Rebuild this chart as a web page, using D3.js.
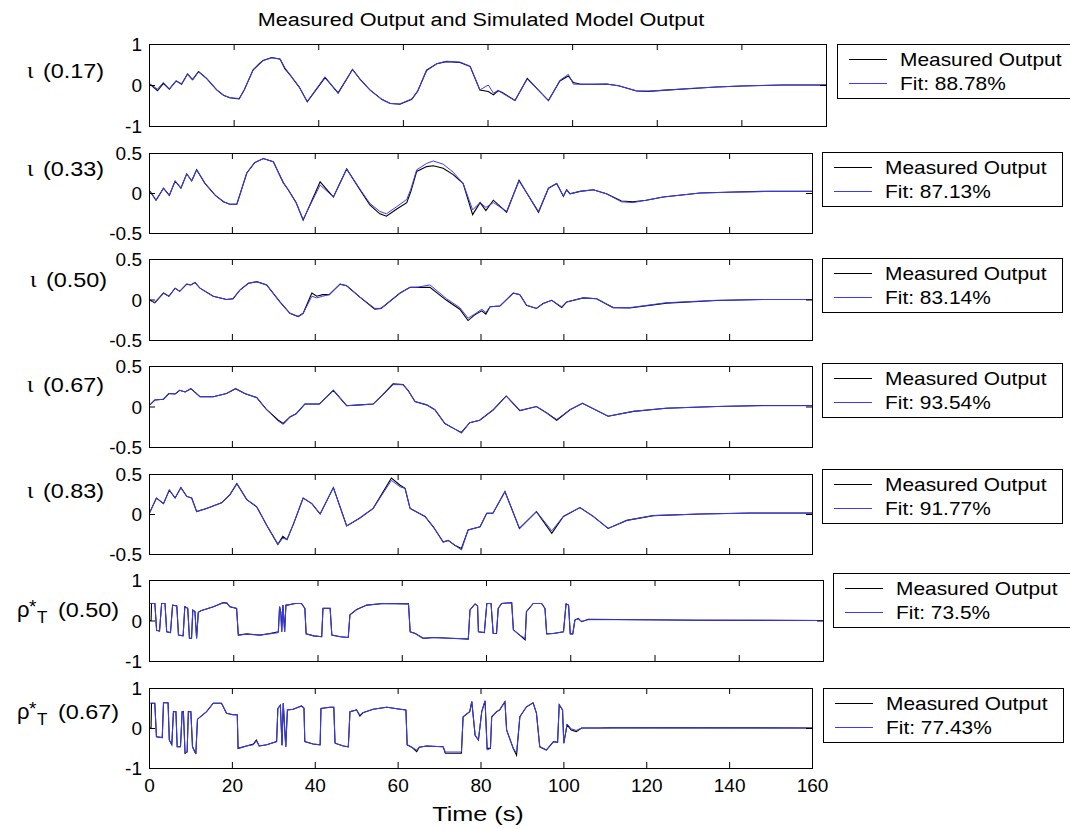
<!DOCTYPE html>
<html>
<head>
<meta charset="utf-8">
<script src="https://cdn.jsdelivr.net/npm/d3@7"></script>
<style>
  html, body { margin: 0; padding: 0; background: #fff; }
  svg { display: block; }
  text { font-family: "Liberation Sans", Arial, Helvetica, sans-serif; fill: #000; }
</style>
</head>
<body>
<svg id="chart" width="1070" height="829"></svg>
<script>
// ---------- data ----------
const chartTitle = "Measured Output and Simulated Model Output";
const xLabel = "Time (s)";
const xTicks = [0, 20, 40, 60, 80, 100, 120, 140, 160];
const xTickLabels = ["0", "20", "40", "60", "80", "100", "120", "140", "160"];
const legendMeasured = "Measured Output";

const yTicksUnit = [-1, 0, 1];
const yTickLabelsUnit = ["-1", "0", "1"];
const yTicksHalf = [-0.5, 0, 0.5];
const yTickLabelsHalf = ["-0.5", "0", "0.5"];

// iota (0.17)
const time_iota17 = [0, 2.0, 3.4, 4.8, 6.4, 7.7, 9.1, 10.3, 11.7, 13.6, 16, 17.6, 19.1, 21.3, 22.5, 24.6, 26.2, 27, 29, 31, 32.1, 33.3, 35.5, 37.4, 41.6, 44.7, 48.1, 49.9, 52.2, 55, 57, 59.3, 62.1, 63.5, 65.6, 68, 70.3, 73.5, 75.9, 78.2, 80.2, 81.4, 82.5, 83.5, 86.5, 89.4, 94.4, 97.1, 99.1, 100.3, 102, 105, 108.2, 111, 115.2, 118, 123, 128.5, 134, 140.4, 150, 160];
const measured_iota17 = [0.04, -0.14, 0.04, -0.1, 0.1, 0.02, 0.27, 0.13, 0.33, 0.16, -0.12, -0.25, -0.31, -0.34, -0.12, 0.37, 0.53, 0.6, 0.67, 0.63, 0.4, 0.25, -0.05, -0.41, 0.18, -0.19, 0.38, 0.14, -0.12, -0.35, -0.45, -0.47, -0.35, -0.15, 0.36, 0.52, 0.57, 0.55, 0.45, -0.12, -0.16, -0.24, -0.14, -0.18, -0.38, 0.16, -0.38, 0.1, 0.22, 0.06, 0.02, 0.02, 0.025, -0.02, -0.145, -0.155, -0.12, -0.085, -0.05, -0.025, 0, 0];
const fit_iota17 = [0.04, -0.1, 0.06, -0.1, 0.1, 0.03, 0.26, 0.12, 0.32, 0.16, -0.12, -0.25, -0.31, -0.33, -0.12, 0.36, 0.52, 0.6, 0.66, 0.64, 0.42, 0.26, -0.05, -0.4, 0.2, -0.21, 0.38, 0.13, -0.12, -0.35, -0.45, -0.46, -0.34, -0.15, 0.35, 0.52, 0.58, 0.56, 0.46, -0.12, 0.0, -0.2, -0.13, -0.2, -0.38, 0.15, -0.38, 0.11, 0.26, 0.02, 0.02, 0.02, 0.02, -0.02, -0.14, -0.15, -0.12, -0.08, -0.05, -0.02, 0, 0];

// iota (0.33)
const time_iota33 = [0, 1.7, 3.5, 4.9, 6.3, 7.7, 9.1, 10.3, 11.5, 13.5, 16, 18, 19.5, 21.2, 23.6, 25.5, 27.6, 30, 32.4, 33.6, 35.5, 37.2, 41.3, 44.5, 47.7, 50.9, 53.3, 55.7, 57.3, 59.8, 62.2, 63.2, 64.6, 67, 68.6, 71, 73.4, 75.8, 78.1, 79.9, 81.3, 83.1, 86.3, 89.3, 94, 96.4, 98.4, 100, 100.8, 101.6, 104, 107.2, 110.4, 114, 116.8, 120, 124.1, 133, 141, 150, 160];
const measured_iota33 = [0.04, -0.09, 0.06, -0.03, 0.15, 0.06, 0.24, 0.15, 0.29, 0.12, -0.03, -0.11, -0.14, -0.14, 0.25, 0.38, 0.43, 0.39, 0.13, 0.04, -0.12, -0.34, 0.14, -0.05, 0.3, 0.04, -0.15, -0.26, -0.29, -0.2, -0.12, 0.02, 0.27, 0.33, 0.34, 0.31, 0.23, 0.12, -0.27, -0.12, -0.22, -0.09, -0.24, 0.16, -0.24, 0.06, 0.12, -0.04, 0.04, -0.01, 0.02, 0.04, -0.01, -0.1, -0.11, -0.09, -0.05, 0, 0.012, 0.022, 0.022];
const fit_iota33 = [0.04, -0.09, 0.06, -0.03, 0.15, 0.06, 0.24, 0.15, 0.29, 0.12, -0.03, -0.11, -0.14, -0.14, 0.25, 0.38, 0.43, 0.39, 0.13, 0.04, -0.12, -0.33, 0.1, -0.05, 0.3, 0.05, -0.13, -0.23, -0.26, -0.17, -0.08, 0.05, 0.29, 0.37, 0.4, 0.36, 0.26, 0.12, -0.21, -0.12, -0.18, -0.12, -0.23, 0.15, -0.23, 0.06, 0.12, -0.04, 0.04, -0.01, 0.02, 0.04, -0.01, -0.11, -0.12, -0.09, -0.05, 0, 0.01, 0.02, 0.02];

// iota (0.50)
const time_iota50 = [0, 1.4, 3.5, 4.8, 6.3, 7.4, 9.1, 10.1, 11.1, 12.3, 15.5, 18.7, 20.3, 22, 24, 26, 28.4, 31.6, 34, 36, 37.2, 39.3, 40.5, 41.9, 43.5, 46.1, 47.7, 50.9, 54.5, 56, 60.6, 63, 64.6, 67.8, 71.8, 75, 77, 78.6, 80.3, 81.3, 82.3, 84.7, 87.9, 89.5, 91.1, 93.5, 95.1, 97.2, 99.6, 100.8, 104.8, 108, 112, 116, 124.9, 137, 148, 160];
const measured_iota50 = [0, -0.04, 0.08, 0.04, 0.14, 0.1, 0.19, 0.18, 0.21, 0.14, 0.04, 0, 0.01, 0.12, 0.2, 0.22, 0.18, -0.03, -0.17, -0.21, -0.17, 0.08, 0.04, 0.06, 0.06, 0.19, 0.17, 0.03, -0.12, -0.11, 0.08, 0.15, 0.15, 0.15, -0.01, -0.12, -0.26, -0.19, -0.14, -0.18, -0.09, -0.08, 0.08, 0.06, -0.07, -0.11, -0.05, -0.01, -0.1, -0.03, 0.02, 0.01, -0.1, -0.105, -0.045, -0.012, 0, 0];
const fit_iota50 = [0, -0.04, 0.08, 0.04, 0.14, 0.1, 0.19, 0.18, 0.21, 0.14, 0.04, 0, 0.01, 0.12, 0.2, 0.22, 0.18, -0.03, -0.17, -0.21, -0.17, 0.04, 0.02, 0.04, 0.06, 0.19, 0.17, 0.03, -0.11, -0.11, 0.08, 0.15, 0.15, 0.18, 0.01, -0.1, -0.23, -0.18, -0.12, -0.16, -0.09, -0.08, 0.08, 0.06, -0.07, -0.11, -0.05, -0.01, -0.09, -0.03, 0.02, 0.01, -0.1, -0.1, -0.04, -0.01, 0, 0];

// iota (0.67)
const time_iota67 = [0, 1.4, 3.5, 4.8, 6.3, 7.4, 8.7, 10.1, 12.3, 15.5, 18.7, 20.9, 23.1, 26, 28.4, 31.2, 32.4, 34, 35.5, 37.6, 41.1, 44.5, 47.7, 50.9, 54.1, 56.5, 58.9, 61.3, 62.5, 64.2, 67, 69, 71.4, 73.5, 75.4, 77.4, 79.8, 83.1, 86.2, 89.5, 93.5, 96, 98.4, 101.6, 104.6, 110.8, 116.9, 124.9, 137, 148, 160];
const measured_iota67 = [0.01, 0.08, 0.09, 0.16, 0.155, 0.2, 0.18, 0.22, 0.12, 0.12, 0.16, 0.22, 0.16, 0.11, -0.04, -0.17, -0.21, -0.13, -0.09, 0.03, 0.03, 0.2, 0.01, 0.02, 0.03, 0.15, 0.28, 0.27, 0.2, 0.06, 0.02, -0.04, -0.21, -0.27, -0.32, -0.2, -0.17, -0.04, 0.13, -0.05, 0, -0.08, -0.17, -0.04, 0.04, -0.12, -0.06, -0.022, 0, 0.012, 0.012];
const fit_iota67 = [0.01, 0.08, 0.09, 0.16, 0.155, 0.2, 0.18, 0.22, 0.12, 0.12, 0.16, 0.22, 0.16, 0.11, -0.04, -0.18, -0.22, -0.13, -0.09, 0.03, 0.03, 0.2, 0.01, 0.02, 0.03, 0.15, 0.27, 0.27, 0.2, 0.06, 0.02, -0.04, -0.21, -0.27, -0.33, -0.2, -0.17, -0.04, 0.13, -0.05, 0, -0.08, -0.16, -0.04, 0.04, -0.12, -0.06, -0.02, 0, 0.01, 0.01];

// iota (0.83)
const time_iota83 = [0, 1.8, 3.5, 4.9, 6.3, 7.7, 9.1, 10.3, 11.5, 13.9, 17.5, 19.5, 21.2, 23.6, 26, 28.4, 31.1, 32.3, 33.3, 34.9, 37.2, 39.3, 41.3, 44.5, 47.7, 50.9, 54.1, 58.5, 60.6, 61.8, 63, 66.6, 68.6, 71, 72.2, 73.8, 75.4, 77, 79.9, 81.5, 83, 85.9, 89.4, 93.5, 97.2, 100, 104, 107.2, 110.8, 115.3, 121.7, 133, 145, 160];
const measured_iota83 = [0, 0.2, 0.13, 0.3, 0.2, 0.33, 0.22, 0.2, 0.03, 0.07, 0.14, 0.24, 0.38, 0.18, 0.09, -0.14, -0.38, -0.28, -0.32, -0.12, 0.2, 0.13, 0, 0.33, -0.15, -0.05, 0.07, 0.45, 0.36, 0.32, 0.07, -0.03, -0.16, -0.35, -0.33, -0.39, -0.43, -0.2, -0.16, 0.01, 0.01, 0.28, -0.18, 0.03, -0.24, -0.03, 0.08, -0.03, -0.18, -0.08, -0.02, 0, 0.012, 0.012];
const fit_iota83 = [0, 0.2, 0.13, 0.3, 0.2, 0.33, 0.22, 0.2, 0.03, 0.07, 0.14, 0.24, 0.38, 0.18, 0.09, -0.14, -0.38, -0.3, -0.32, -0.12, 0.2, 0.13, 0, 0.33, -0.15, -0.05, 0.07, 0.42, 0.34, 0.32, 0.07, -0.03, -0.16, -0.35, -0.33, -0.39, -0.45, -0.2, -0.16, 0.01, 0.01, 0.28, -0.18, 0.03, -0.21, -0.03, 0.08, -0.03, -0.18, -0.08, -0.02, 0, 0.01, 0.01];

// rho*_T (0.50)
const time_rho50 = [0, 0.5, 0.6, 1.4, 1.8, 2.5, 3.0, 3.8, 4.2, 5.1, 5.6, 6.6, 7.0, 8.1, 8.5, 9.2, 9.6, 10.1, 10.4, 10.9, 11.3, 11.7, 12.3, 15.3, 17.6, 18.5, 19.2, 20.8, 21.2, 23.2, 26.3, 28.7, 30.7, 31.0, 31.3, 31.5, 31.8, 32.2, 32.5, 32.8, 34.7, 36.2, 37.0, 37.3, 39.1, 41.0, 41.3, 43.0, 43.4, 45.4, 47.3, 47.7, 49.3, 51.7, 55.6, 61.6, 62.0, 63.2, 65.1, 67.5, 71.5, 75.8, 76.2, 77.4, 78.0, 78.2, 79.6, 80.2, 81.2, 81.7, 82.5, 82.9, 83.7, 86.1, 86.5, 88.0, 89.3, 89.6, 91.2, 93.2, 94.0, 94.4, 96.0, 98.4, 99.0, 99.6, 100.0, 100.6, 101.1, 101.9, 102.7, 104.3, 111, 130, 160];
const measured_rho50 = [0, 0, 0.42, 0.42, -0.24, -0.26, 0.42, 0.42, -0.28, -0.3, 0.38, 0.36, -0.36, -0.38, 0.34, 0.3, -0.44, -0.44, 0.26, 0.22, -0.44, 0.2, 0.24, 0.34, 0.44, 0.43, 0.34, 0.3, -0.36, -0.33, -0.36, -0.32, -0.28, 0.34, 0.2, -0.28, 0.38, -0.28, 0.38, 0.38, 0.42, 0.42, 0.3, -0.33, -0.38, -0.4, 0.3, 0.3, -0.36, -0.4, -0.42, 0.14, 0.27, 0.38, 0.42, 0.41, -0.28, -0.32, -0.44, -0.42, -0.44, -0.46, 0.26, 0.41, 0.36, -0.28, -0.3, 0.42, 0.42, -0.32, -0.32, 0.3, 0.42, 0.44, -0.23, -0.36, -0.48, 0.22, 0.42, 0.42, 0.3, -0.33, -0.32, -0.28, 0.41, 0.38, -0.33, -0.33, 0.01, 0.05, -0.03, 0.03, 0.025, 0.005, 0];
const fit_rho50 = [0.42, 0.42, 0.42, 0.42, -0.24, -0.26, 0.42, 0.42, -0.28, -0.3, 0.38, 0.36, -0.36, -0.38, 0.34, 0.3, -0.44, -0.44, 0.26, 0.22, -0.44, 0.2, 0.24, 0.34, 0.44, 0.43, 0.34, 0.3, -0.36, -0.34, -0.36, -0.33, -0.3, 0.34, 0.2, -0.28, 0.38, -0.28, 0.38, 0.38, 0.42, 0.42, 0.3, -0.33, -0.38, -0.4, 0.3, 0.3, -0.36, -0.4, -0.42, 0.14, 0.27, 0.38, 0.42, 0.41, -0.28, -0.32, -0.44, -0.42, -0.44, -0.45, 0.26, 0.41, 0.36, -0.28, -0.3, 0.42, 0.42, -0.32, -0.32, 0.3, 0.42, 0.44, -0.23, -0.36, -0.44, 0.22, 0.42, 0.42, 0.3, -0.33, -0.32, -0.28, 0.41, 0.38, -0.33, -0.33, 0.01, 0.04, -0.02, 0.02, 0.02, 0.01, 0];

// rho*_T (0.67)
const time_rho67 = [0, 0.5, 0.6, 1.4, 1.8, 3.2, 3.5, 4.6, 4.9, 5.5, 5.9, 6.5, 6.8, 7.6, 8.0, 8.3, 8.7, 9.2, 9.5, 10.1, 10.5, 11.3, 11.7, 13.9, 15.5, 17.5, 18.7, 20.3, 21.3, 21.5, 23.5, 25.2, 25.9, 26.6, 28.4, 30.8, 31.1, 31.7, 32.1, 32.4, 33.0, 33.4, 34.8, 36.8, 37.4, 37.6, 39.6, 41.3, 41.5, 43.7, 44.6, 44.9, 46.9, 48.1, 48.5, 50.1, 50.9, 51.6, 54.1, 57.4, 60.6, 62.0, 62.3, 63.4, 64.6, 65.2, 67, 71, 71.5, 75.4, 75.8, 77.4, 77.9, 78.7, 79.5, 80.3, 81.1, 81.6, 82.4, 82.7, 83.9, 84.6, 85.9, 86.3, 87.9, 88.7, 89.5, 91.1, 92.7, 93.5, 94.3, 95.9, 97.6, 98.6, 99.0, 99.8, 100.1, 100.9, 101.9, 103.1, 104.4, 108.8, 112, 160];
const measured_rho67 = [0, 0, 0.62, 0.62, -0.22, -0.24, 0.63, 0.63, -0.3, -0.42, 0.41, 0.41, -0.47, -0.47, 0.41, 0.41, -0.63, -0.6, 0.41, 0.41, -0.47, -0.65, 0.22, 0.41, 0.62, 0.62, 0.37, 0.33, 0.33, -0.51, -0.45, -0.4, -0.3, -0.45, -0.42, -0.34, 0.49, 0.57, -0.43, 0.62, -0.47, 0.45, 0.47, 0.55, 0.5, -0.34, -0.4, -0.42, 0.49, 0.52, 0.52, -0.38, -0.45, -0.47, 0.41, 0.45, 0.3, 0.38, 0.47, 0.52, 0.47, 0.45, -0.42, -0.48, -0.59, -0.48, -0.45, -0.47, -0.63, -0.63, 0.28, 0.41, 0.66, -0.18, -0.3, 0.41, 0.68, -0.51, -0.51, 0.28, 0.41, 0.45, 0.66, -0.05, -0.51, -0.68, 0.28, 0.53, 0.63, 0.37, -0.47, -0.55, -0.34, -0.36, 0.58, 0.45, -0.38, 0.08, -0.05, -0.09, 0, 0, 0.01, 0];
const fit_rho67 = [0.62, 0.62, 0.62, 0.62, -0.22, -0.24, 0.63, 0.63, -0.3, -0.42, 0.41, 0.41, -0.47, -0.47, 0.41, 0.41, -0.63, -0.6, 0.41, 0.41, -0.47, -0.65, 0.22, 0.41, 0.62, 0.62, 0.37, 0.33, 0.33, -0.51, -0.45, -0.42, -0.32, -0.45, -0.42, -0.34, 0.49, 0.57, -0.43, 0.62, -0.47, 0.45, 0.47, 0.55, 0.5, -0.34, -0.4, -0.42, 0.49, 0.52, 0.52, -0.38, -0.45, -0.47, 0.41, 0.45, 0.32, 0.38, 0.47, 0.52, 0.47, 0.45, -0.42, -0.48, -0.55, -0.48, -0.45, -0.47, -0.6, -0.6, 0.28, 0.41, 0.66, -0.18, -0.3, 0.41, 0.68, -0.55, -0.51, 0.28, 0.41, 0.45, 0.66, -0.05, -0.51, -0.62, 0.28, 0.53, 0.63, 0.37, -0.47, -0.55, -0.34, -0.36, 0.58, 0.45, -0.38, 0.1, -0.02, -0.06, 0, 0, 0.01, 0];

const panelSymbols = ["ι", "ι", "ι", "ι", "ι", "ρ", "ρ"];
const panelValues = ["(0.17)", "(0.33)", "(0.50)", "(0.67)", "(0.83)", "(0.50)", "(0.67)"];
const fitLabels = ["Fit: 88.78%", "Fit: 87.13%", "Fit: 83.14%", "Fit: 93.54%", "Fit: 91.77%", "Fit: 73.5%", "Fit: 77.43%"];

// ---------- layout ----------
const layout = [
  { left: 149, right: 826, top: 44,  bottom: 126, legX: 837, legY: 44,  labelX: 27, labelY: 73 },
  { left: 149, right: 812, top: 153, bottom: 233, legX: 822, legY: 152, labelX: 27, labelY: 171 },
  { left: 149, right: 812, top: 259, bottom: 340, legX: 822, legY: 258, labelX: 30, labelY: 282 },
  { left: 149, right: 812, top: 366, bottom: 447, legX: 822, legY: 363, labelX: 27, labelY: 387 },
  { left: 149, right: 812, top: 474, bottom: 554, legX: 822, legY: 469, labelX: 27, labelY: 493 },
  { left: 149, right: 823, top: 580, bottom: 661, legX: 833, legY: 573, labelX: 17, labelY: 612 },
  { left: 149, right: 812, top: 688, bottom: 768, legX: 823, legY: 688, labelX: 17, labelY: 714 }
];

const panels = [
  { time: time_iota17, measured: measured_iota17, fit: fit_iota17, yDomain: [-1, 1], yTicks: yTicksUnit, yTickLabels: yTickLabelsUnit },
  { time: time_iota33, measured: measured_iota33, fit: fit_iota33, yDomain: [-0.5, 0.5], yTicks: yTicksHalf, yTickLabels: yTickLabelsHalf },
  { time: time_iota50, measured: measured_iota50, fit: fit_iota50, yDomain: [-0.5, 0.5], yTicks: yTicksHalf, yTickLabels: yTickLabelsHalf },
  { time: time_iota67, measured: measured_iota67, fit: fit_iota67, yDomain: [-0.5, 0.5], yTicks: yTicksHalf, yTickLabels: yTickLabelsHalf },
  { time: time_iota83, measured: measured_iota83, fit: fit_iota83, yDomain: [-0.5, 0.5], yTicks: yTicksHalf, yTickLabels: yTickLabelsHalf },
  { time: time_rho50, measured: measured_rho50, fit: fit_rho50, yDomain: [-1, 1], yTicks: yTicksUnit, yTickLabels: yTickLabelsUnit },
  { time: time_rho67, measured: measured_rho67, fit: fit_rho67, yDomain: [-1, 1], yTicks: yTicksUnit, yTickLabels: yTickLabelsUnit }
].map((p, i) => Object.assign(p, layout[i], {
  symbol: panelSymbols[i], value: panelValues[i], fitLabel: fitLabels[i]
}));

// ---------- styles ----------
const MEASURED_COLOR = "#000000";
const FIT_COLOR = "#3a3aff";
const TICK_LEN = 6;
const TICK_FONT = 19;
const WIDE = 1.1;   // horizontal widening of the caption fonts

// stretch a text element horizontally by a factor, keeping its anchor point
function widen(sel, factor) {
  sel.each(function () {
    const w = this.getComputedTextLength();
    d3.select(this).attr("textLength", w * factor).attr("lengthAdjust", "spacingAndGlyphs");
  });
  return sel;
}

const svg = d3.select("#chart");
svg.append("rect").attr("width", 1070).attr("height", 829).attr("fill", "#fff");

// title
svg.append("text")
  .attr("x", 481).attr("y", 26)
  .attr("text-anchor", "middle")
  .style("font-size", "18px")
  .text(chartTitle)
  .call(widen, 1.2);

const defs = svg.append("defs");

panels.forEach((p, i) => {
  const x = d3.scaleLinear().domain([0, 160]).range([p.left, p.right]);
  const y = d3.scaleLinear().domain(p.yDomain).range([p.bottom, p.top]);
  const g = svg.append("g").attr("class", "panel");
  const isLast = i === panels.length - 1;

  defs.append("clipPath").attr("id", "clip" + i)
    .append("rect")
    .attr("x", p.left).attr("y", p.top)
    .attr("width", p.right - p.left).attr("height", p.bottom - p.top);

  const line = d3.line()
    .x((d, k) => x(p.time[k]))
    .y(d => y(d));

  const plot = g.append("g").attr("clip-path", "url(#clip" + i + ")");
  plot.append("path").datum(p.measured)
    .attr("d", line).attr("fill", "none")
    .attr("stroke", MEASURED_COLOR).attr("stroke-width", 1.1);
  plot.append("path").datum(p.fit)
    .attr("d", line).attr("fill", "none")
    .attr("stroke", FIT_COLOR).attr("stroke-width", 1);

  // x ticks, inward on bottom and top edges
  const axB = g.append("g").attr("transform", `translate(0,${p.bottom})`)
    .call(d3.axisBottom(x).tickValues(xTicks).tickSize(-TICK_LEN).tickPadding(TICK_LEN + 7)
      .tickFormat((d, k) => isLast ? xTickLabels[k] : ""));
  const axT = g.append("g").attr("transform", `translate(0,${p.top})`)
    .call(d3.axisTop(x).tickValues(xTicks).tickSize(-TICK_LEN).tickFormat(""));
  // y ticks, inward on left and right edges
  const axL = g.append("g").attr("transform", `translate(${p.left},0)`)
    .call(d3.axisLeft(y).tickValues(p.yTicks).tickSize(-TICK_LEN).tickPadding(7)
      .tickFormat((d, k) => p.yTickLabels[k]));
  const axR = g.append("g").attr("transform", `translate(${p.right},0)`)
    .call(d3.axisRight(y).tickValues(p.yTicks).tickSize(-TICK_LEN).tickFormat(""));

  [axB, axT, axL, axR].forEach(a => {
    a.select(".domain").remove();
    a.selectAll(".tick line").attr("stroke", "#000");
    a.selectAll("text")
      .style("font-family", '"Liberation Sans", Arial, sans-serif')
      .style("font-size", TICK_FONT + "px").attr("fill", "#000");
  });
  axL.selectAll("text").attr("dy", "0.36em");
  if (isLast) axB.selectAll("text").attr("dy", "0.71em").attr("y", 11);

  // axes frame
  g.append("rect")
    .attr("x", p.left + 0.5).attr("y", p.top + 0.5)
    .attr("width", p.right - p.left).attr("height", p.bottom - p.top)
    .attr("fill", "none").attr("stroke", "#000").attr("stroke-width", 1);

  // panel label: Greek symbol (with * and subscript T for rho), then the value
  const lab = g.append("g").style("font-size", "20px");
  if (p.symbol === "ρ") {
    const t = lab.append("text").attr("y", p.labelY + 5);
    t.append("tspan").attr("x", p.labelX).style("font-size", "22px").text(p.symbol);
    t.append("tspan").attr("x", p.labelX + 12).attr("y", p.labelY + 1)
      .style("font-size", "19px").text("*");
    t.append("tspan").attr("x", p.labelX + 20).attr("y", p.labelY + 11)
      .style("font-size", "17px").text("T");
    lab.append("text").attr("x", p.labelX + 41).attr("y", p.labelY + 5)
      .text(p.value).call(widen, 1.17);
  } else {
    lab.append("text").attr("x", p.labelX).attr("y", p.labelY + 5)
      .style("font-family", '"Liberation Serif", "DejaVu Serif", serif')
      .style("font-size", "24px").text(p.symbol);
    lab.append("text").attr("x", p.labelX + 16).attr("y", p.labelY + 5)
      .text(p.value).call(widen, 1.17);
  }

  // legend
  const lg = g.append("g").attr("transform", `translate(${p.legX},${p.legY})`);
  lg.append("rect").attr("x", 0.5).attr("y", 0.5).attr("width", 240).attr("height", 54)
    .attr("fill", "#fff").attr("stroke", "#000").attr("stroke-width", 1);
  lg.append("line").attr("x1", 12).attr("x2", 50).attr("y1", 15.5).attr("y2", 15.5)
    .attr("stroke", MEASURED_COLOR).attr("stroke-width", 1);
  lg.append("line").attr("x1", 12).attr("x2", 50).attr("y1", 39.5).attr("y2", 39.5)
    .attr("stroke", FIT_COLOR).attr("stroke-width", 1);
  lg.append("text").attr("x", 63).attr("y", 22).style("font-size", "19px")
    .text(legendMeasured).call(widen, WIDE);
  lg.append("text").attr("x", 63).attr("y", 46).style("font-size", "19px")
    .text(p.fitLabel).call(widen, WIDE);
});

// x axis label
svg.append("text")
  .attr("x", 478).attr("y", 821)
  .attr("text-anchor", "middle")
  .style("font-size", "21px")
  .text(xLabel)
  .call(widen, 1.2);
</script>
</body>
</html>
